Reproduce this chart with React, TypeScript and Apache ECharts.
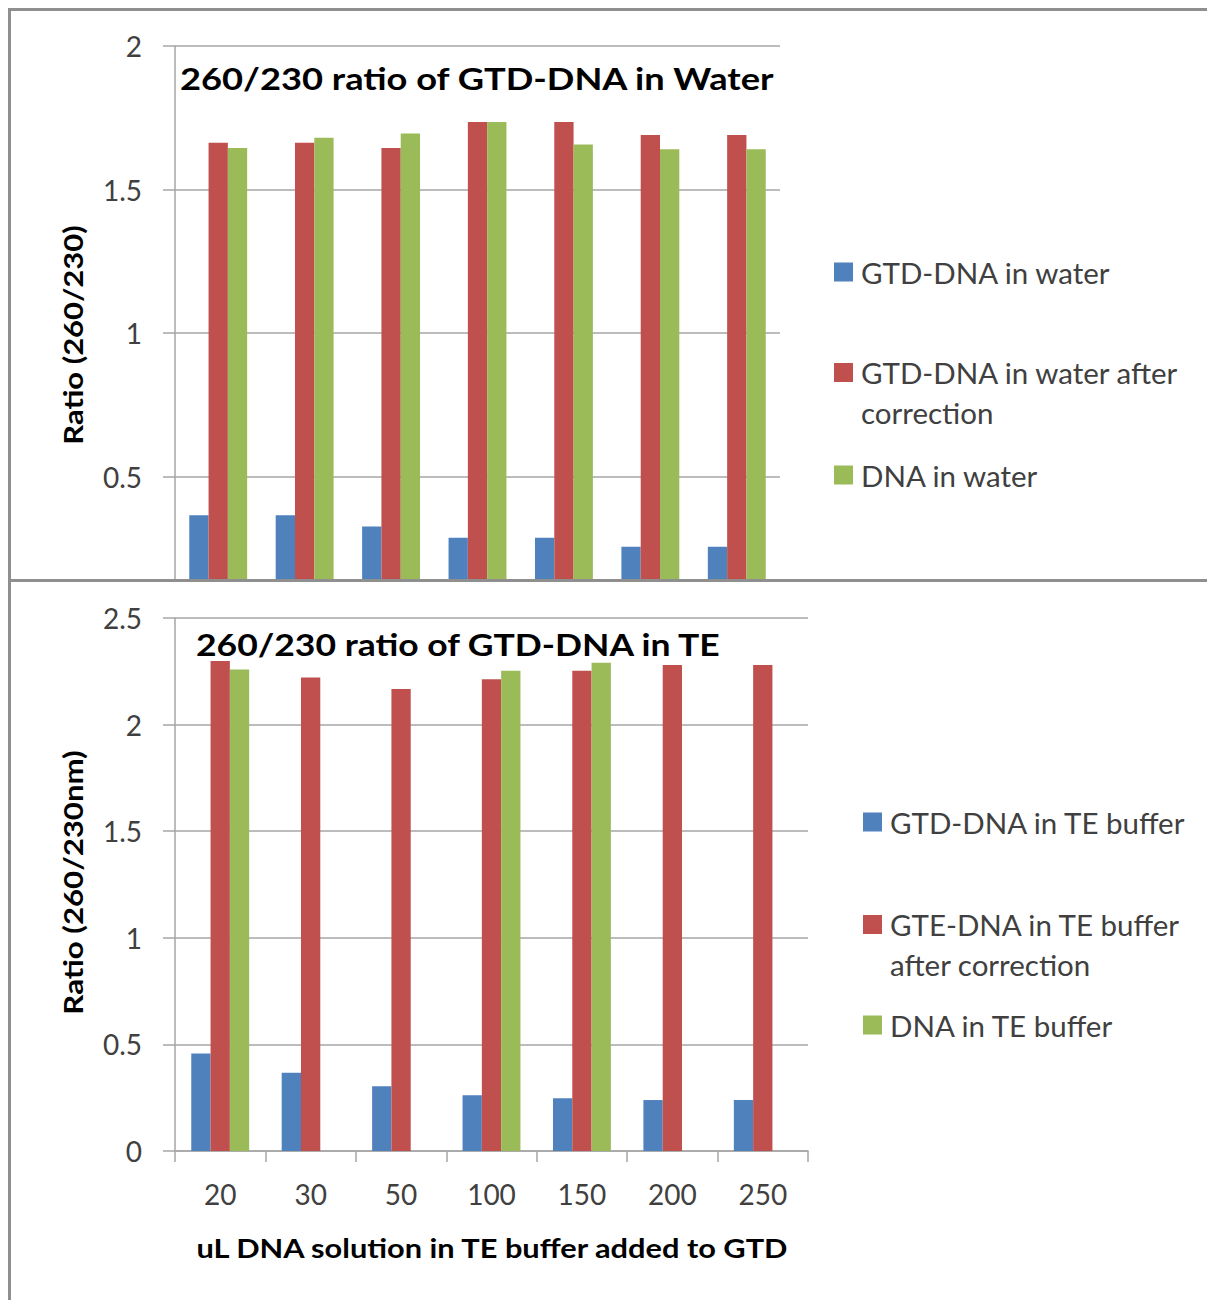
import React, { useEffect, useRef } from "react";
import * as echarts from "echarts";

// ---------- data ----------
const categories = ["20", "30", "50", "100", "150", "200", "250"];

const waterNames = [
  "GTD-DNA in water",
  "GTD-DNA in water after correction",
  "DNA in water",
];
const waterGtd = [0.365, 0.365, 0.326, 0.287, 0.287, 0.255, 0.255];
const waterGtdCorrected = [1.663, 1.663, 1.645, 1.735, 1.735, 1.69, 1.69];
const waterDna = [1.645, 1.68, 1.695, 1.735, 1.657, 1.64, 1.64];

const teNames = [
  "GTD-DNA in TE buffer",
  "GTE-DNA in TE buffer after correction",
  "DNA in TE buffer",
];
const teGtd = [0.457, 0.367, 0.304, 0.261, 0.248, 0.239, 0.239];
const teGtdCorrected = [2.298, 2.221, 2.167, 2.213, 2.252, 2.28, 2.28];
const teDna = [2.259, null, null, 2.252, 2.29, null, null];

const waterTitle = "260/230 ratio of GTD-DNA in Water";
const teTitle = "260/230 ratio of GTD-DNA in TE";
const waterYName = "Ratio (260/230)";
const teYName = "Ratio (260/230nm)";
const xName = "uL DNA solution in TE buffer added to GTD";

// ---------- styles ----------
const COLORS = ["#4F81BD", "#C0504D", "#9BBB59"];
const FONT = "Lato";
const GRID_COLOR = "#a6a6a6";
const LABEL_COLOR = "#404040";

const ICON_ONE = "path://M0,0h19v19h-19Z M22,19h0.01v-0.01h-0.01Z";
const ICON_TWO = "path://M0,0h19v19h-19Z M22,59h0.01v-0.01h-0.01Z";

function splitName(name: string, breakAfter: string) {
  const i = name.indexOf(breakAfter);
  if (i < 0) return name;
  const cut = i + breakAfter.length;
  return name.slice(0, cut) + "\n" + name.slice(cut + 1);
}

function legendItem(name: string, left: number, top: number, two: boolean, breakAfter: string) {
  return {
    data: [name],
    left,
    top,
    orient: "vertical",
    padding: 0,
    itemWidth: 22,
    itemHeight: two ? 59 : 19,
    icon: two ? ICON_TWO : ICON_ONE,
    selectedMode: false,
    formatter: (n: string) => (two ? splitName(n, breakAfter) : n),
    textStyle: {
      fontFamily: FONT,
      fontSize: 29.5,
      color: LABEL_COLOR,
      lineHeight: 40,
    },
  };
}

function boldText(
  text: string,
  x: number,
  y: number,
  size: number,
  scaleX: number,
  align: string,
  rotation = 0
) {
  return {
    type: "text",
    x,
    y,
    rotation,
    scaleX,
    silent: true,
    style: {
      text,
      fontFamily: FONT,
      fontWeight: "bold",
      fontSize: size,
      fill: "#000",
      align,
      verticalAlign: "middle",
    },
  };
}

function buildOption(opts: {
  names: string[];
  series: (number | null)[][];
  max: number;
  texts: any[];
  grid: { left: number; top: number; width: number; height: number };
  legendLeft: number;
  legendTops: number[];
  breakAfter: string;
  showX: boolean;
}) {
  return {
    animation: false,
    backgroundColor: "transparent",
    textStyle: { fontFamily: FONT },
    grid: { ...opts.grid, containLabel: false },
    graphic: opts.texts,
    legend: [
      legendItem(opts.names[0], opts.legendLeft, opts.legendTops[0], false, opts.breakAfter),
      legendItem(opts.names[1], opts.legendLeft, opts.legendTops[1], true, opts.breakAfter),
      legendItem(opts.names[2], opts.legendLeft, opts.legendTops[2], false, opts.breakAfter),
    ],
    xAxis: {
      type: "category",
      data: categories,
      axisLine: { show: true, lineStyle: { color: GRID_COLOR, width: 1.5 } },
      axisTick: {
        show: true,
        alignWithLabel: false,
        length: 11,
        lineStyle: { color: GRID_COLOR, width: 1.5 },
      },
      axisLabel: {
        show: opts.showX,
        fontFamily: FONT,
        fontSize: 28,
        color: LABEL_COLOR,
        margin: 29,
        interval: 0,
      },
      splitLine: { show: false },
    },
    yAxis: {
      type: "value",
      min: 0,
      max: opts.max,
      interval: 0.5,
      axisLine: { show: true, lineStyle: { color: GRID_COLOR, width: 1.5 } },
      axisTick: { show: true, length: 12, lineStyle: { color: GRID_COLOR, width: 1.5 } },
      axisLabel: {
        fontFamily: FONT,
        fontSize: 28,
        color: LABEL_COLOR,
        margin: 33,
        showMinLabel: opts.showX,
      },
      splitLine: { show: true, lineStyle: { color: GRID_COLOR, width: 1.5 } },
    },
    series: opts.series.map((d, i) => ({
      type: "bar",
      name: opts.names[i],
      data: d,
      barWidth: 19.3,
      barGap: "0%",
      itemStyle: { color: COLORS[i] },
    })),
  };
}

export default function App() {
  const topRef = useRef<HTMLDivElement>(null);
  const botRef = useRef<HTMLDivElement>(null);

  useEffect(() => {
    const top = echarts.init(topRef.current!, null, { renderer: "svg" });
    top.setOption(
      buildOption({
        names: waterNames,
        series: [waterGtd, waterGtdCorrected, waterDna],
        max: 2,
        texts: [
          boldText(waterTitle, 169, 67, 31, 1.17, "left"),
          boldText(waterYName, 62, 324, 26, 1.19, "center", Math.PI / 2),
        ],
        grid: { left: 164, top: 35, width: 605, height: 574 },
        legendLeft: 823,
        legendTops: [241, 341.5, 444],
        breakAfter: "after",
        showX: false,
      })
    );
    const bot = echarts.init(botRef.current!, null, { renderer: "svg" });
    bot.setOption(
      buildOption({
        names: teNames,
        series: [teGtd, teGtdCorrected, teDna],
        max: 2.5,
        texts: [
          boldText(teTitle, 185, 62, 31, 1.145, "left"),
          boldText(teYName, 62, 300.5, 26, 1.2, "center", Math.PI / 2),
          boldText(xName, 481, 665, 27, 1.14, "center"),
        ],
        grid: { left: 164, top: 36, width: 633, height: 533 },
        legendLeft: 852,
        legendTops: [220, 322.5, 423],
        breakAfter: "buffer",
        showX: true,
      })
    );
    return () => {
      top.dispose();
      bot.dispose();
    };
  }, []);

  const line = "#8f8f8f";
  return (
    <div
      style={{
        position: "absolute",
        left: 0,
        top: 0,
        width: 1207,
        height: 1300,
        background: "#fff",
        overflow: "hidden",
      }}
    >
      <div
        style={{
          position: "absolute",
          left: 11,
          top: 11,
          width: 1196,
          height: 569,
          overflow: "hidden",
        }}
      >
        <div ref={topRef} style={{ width: 1196, height: 700 }} />
      </div>
      <div
        ref={botRef}
        style={{ position: "absolute", left: 11, top: 582, width: 1196, height: 718 }}
      />
      <div style={{ position: "absolute", left: 8, top: 8, width: 1199, height: 3, background: line }} />
      <div style={{ position: "absolute", left: 8, top: 8, width: 3, height: 1292, background: line }} />
      <div style={{ position: "absolute", left: 8, top: 579, width: 1199, height: 3, background: line }} />
    </div>
  );
}
